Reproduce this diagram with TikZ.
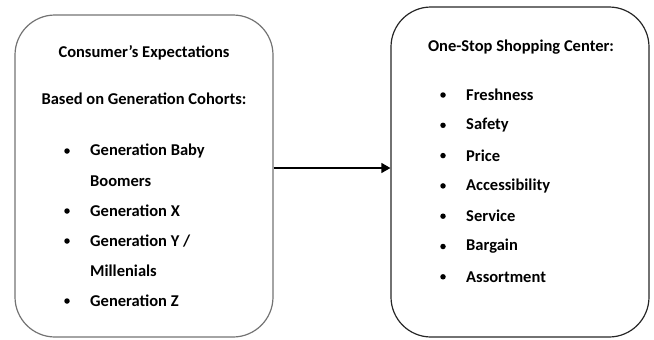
\documentclass[tikz,border=0pt]{standalone}
\usepackage{fontspec}
\setmainfont{Carlito}
\usetikzlibrary{arrows.meta}
\begin{document}
\begin{tikzpicture}[x=1pt,y=-1pt,
  box/.style={draw, rounded corners=40pt, line width=1.2pt, inner sep=0pt},
  txt/.style={font=\fontsize{16.5}{18}\selectfont\bfseries, inner sep=0pt, anchor=west},
  head/.style={font=\fontsize{16.5}{18}\selectfont\bfseries, inner sep=0pt},
  dot/.style={circle, fill=black, inner sep=0pt, minimum size=5.5pt}]
\useasboundingbox (0,0) rectangle (654,340);
\node[box, draw=black!55, minimum width=258pt, minimum height=322pt] (L) at (144,176) {};
\node[box, draw=black!85, minimum width=258pt, minimum height=330pt] (R) at (520,172) {};
\coordinate (mid) at (330,168);
\draw[line width=1.3pt, -{Triangle[length=9pt,width=10pt]}] (mid -| L.east) -- (mid -| R.west);
% left texts
\node[head] (l1) at (144,53) {Consumer’s Expectations};
\node[head] (l2) at (144,99) {Based on Generation Cohorts:};
\node[dot] (b1) at (67,151) {};
\node[txt] (t1) at (90,151) {Generation Baby};
\node[txt] (t1b) at (90,181) {Boomers};
\node[dot] (b2) at (67,211) {};
\node[txt] (t2) at (90,211) {Generation X};
\node[dot] (b3) at (67,241) {};
\node[txt] (t3) at (90,241) {Generation Y /};
\node[txt] (t3b) at (90,271) {Millenials};
\node[dot] (b4) at (67,301) {};
\node[txt] (t4) at (90,301) {Generation Z};
% right texts
\node[head] (r0) at (521,47) {One-Stop Shopping Center:};
\foreach \i/\t [count=\k from 0] in {1/Freshness,2/Safety,3/Price,4/Accessibility,5/Service,6/Bargain,7/Assortment}{
  \node[dot] (rb\i) at (443,95+30.3*\k) {};
  \node[txt] (rt\i) at (466,95+30.3*\k) {\t};
}
\end{tikzpicture}
\end{document}
